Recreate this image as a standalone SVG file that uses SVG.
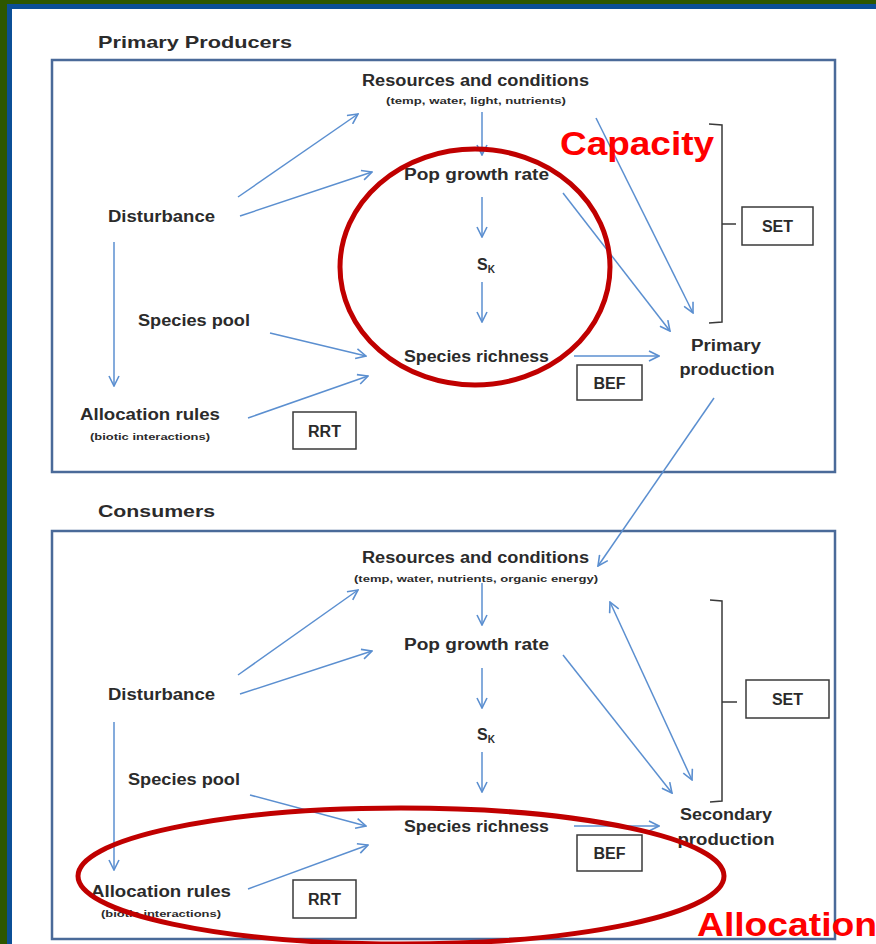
<svg xmlns="http://www.w3.org/2000/svg" width="876" height="944" viewBox="0 0 876 944">
<defs>
<marker id="ah" viewBox="0 0 12 12" refX="11" refY="6" markerWidth="12" markerHeight="12" markerUnits="userSpaceOnUse" orient="auto-start-reverse">
<path d="M1,1 L11,6 L1,11" fill="none" stroke="#5b8fd0" stroke-width="1.6"/>
</marker>
<style>
.t{font-family:"Liberation Sans",Arial,sans-serif;font-weight:bold;fill:#2b2b2b;}
.lbl{font-size:16px;}
.sm{font-size:9px;}
.hd{font-size:17px;}
.box{fill:#fff;stroke:#3a3a3a;stroke-width:1.5;}
.frame{fill:#fff;stroke:#4a6a99;stroke-width:2.5;}
.br{fill:none;stroke:#3a3a3a;stroke-width:1.5;}
.c line{stroke:#5b8fd0;stroke-width:1.5;marker-end:url(#ah);}
.red{font-family:"Liberation Sans",Arial,sans-serif;font-weight:bold;fill:#ff0000;font-size:34px;}
.ov{fill:none;stroke:#c00000;stroke-width:5;}
</style>
</defs>
<rect x="0" y="0" width="876" height="944" fill="#2d5700"/>
<rect x="7" y="4" width="869" height="940" fill="#0b4f97"/>
<rect x="12" y="9" width="864" height="935" fill="#ffffff"/>

<g id="producers">
<text class="t hd" x="98" y="48" textLength="194" lengthAdjust="spacingAndGlyphs">Primary Producers</text>
<rect class="frame" x="52" y="60" width="783" height="412"/>
</g>
<g id="consumers">
<text class="t hd" x="98" y="517" textLength="117" lengthAdjust="spacingAndGlyphs">Consumers</text>
<rect class="frame" x="52" y="531" width="783" height="408"/>
</g>

<!-- Top section nodes -->
<g id="p-resources">
<text class="t lbl" x="362" y="86" textLength="227" lengthAdjust="spacingAndGlyphs">Resources and conditions</text>
<text class="t sm" x="386" y="104" textLength="180" lengthAdjust="spacingAndGlyphs">(temp, water, light, nutrients)</text>
</g>
<g id="p-pop"><text class="t lbl" x="404" y="180" textLength="145" lengthAdjust="spacingAndGlyphs">Pop growth rate</text></g>
<g id="p-sk"><text class="t lbl" x="477" y="270">S<tspan font-size="10" dy="3">K</tspan></text></g>
<g id="p-rich"><text class="t lbl" x="404" y="362" textLength="145" lengthAdjust="spacingAndGlyphs">Species richness</text></g>
<g id="p-dist"><text class="t lbl" x="108" y="222" textLength="107" lengthAdjust="spacingAndGlyphs">Disturbance</text></g>
<g id="p-pool"><text class="t lbl" x="138" y="326" textLength="112" lengthAdjust="spacingAndGlyphs">Species pool</text></g>
<g id="p-alloc">
<text class="t lbl" x="80" y="420" textLength="140" lengthAdjust="spacingAndGlyphs">Allocation rules</text>
<text class="t sm" x="90" y="440" textLength="120" lengthAdjust="spacingAndGlyphs">(biotic interactions)</text>
</g>
<g id="p-rrt"><rect class="box" x="293" y="412" width="63" height="37"/><text class="t lbl" x="324.5" y="437" text-anchor="middle">RRT</text></g>
<g id="p-bef"><rect class="box" x="577" y="365" width="65" height="35"/><text class="t lbl" x="609.5" y="389" text-anchor="middle">BEF</text></g>
<g id="p-prod">
<text class="t lbl" x="726" y="351" text-anchor="middle" textLength="70" lengthAdjust="spacingAndGlyphs">Primary</text>
<text class="t lbl" x="727" y="375" text-anchor="middle" textLength="95" lengthAdjust="spacingAndGlyphs">production</text>
</g>
<g id="p-set">
<path class="br" d="M709,124 L722,125 L722,322 L709,323 M722,224 L736,224"/>
<rect class="box" x="742" y="207" width="71" height="38"/>
<text class="t lbl" x="777.5" y="232" text-anchor="middle">SET</text>
</g>

<!-- Bottom section nodes -->
<g id="c-resources">
<text class="t lbl" x="362" y="563" textLength="227" lengthAdjust="spacingAndGlyphs">Resources and conditions</text>
<text class="t sm" x="354" y="582" textLength="244" lengthAdjust="spacingAndGlyphs">(temp, water, nutrients, organic energy)</text>
</g>
<g id="c-pop"><text class="t lbl" x="404" y="650" textLength="145" lengthAdjust="spacingAndGlyphs">Pop growth rate</text></g>
<g id="c-sk"><text class="t lbl" x="477" y="740">S<tspan font-size="10" dy="3">K</tspan></text></g>
<g id="c-rich"><text class="t lbl" x="404" y="832" textLength="145" lengthAdjust="spacingAndGlyphs">Species richness</text></g>
<g id="c-dist"><text class="t lbl" x="108" y="700" textLength="107" lengthAdjust="spacingAndGlyphs">Disturbance</text></g>
<g id="c-pool"><text class="t lbl" x="128" y="785" textLength="112" lengthAdjust="spacingAndGlyphs">Species pool</text></g>
<g id="c-alloc">
<text class="t lbl" x="91" y="897" textLength="140" lengthAdjust="spacingAndGlyphs">Allocation rules</text>
<text class="t sm" x="101" y="917" textLength="120" lengthAdjust="spacingAndGlyphs">(biotic interactions)</text>
</g>
<g id="c-rrt"><rect class="box" x="293" y="880" width="63" height="38"/><text class="t lbl" x="324.5" y="905" text-anchor="middle">RRT</text></g>
<g id="c-bef"><rect class="box" x="577" y="835" width="65" height="36"/><text class="t lbl" x="609.5" y="859" text-anchor="middle">BEF</text></g>
<g id="c-prod">
<text class="t lbl" x="726" y="820" text-anchor="middle" textLength="92" lengthAdjust="spacingAndGlyphs">Secondary</text>
<text class="t lbl" x="726" y="845" text-anchor="middle" textLength="97" lengthAdjust="spacingAndGlyphs">production</text>
</g>
<g id="c-set">
<path class="br" d="M710,600 L722,601 L722,801 L710,802 M722,702 L737,702"/>
<rect class="box" x="746" y="680" width="83" height="38"/>
<text class="t lbl" x="787.5" y="705" text-anchor="middle">SET</text>
</g>

<g id="connectors" class="c">
<line x1="238" y1="197" x2="358" y2="114"/>
<line x1="240" y1="216" x2="372" y2="172"/>
<line x1="482" y1="112" x2="482" y2="155"/>
<line x1="482" y1="197" x2="482" y2="237"/>
<line x1="482" y1="282" x2="482" y2="322"/>
<line x1="270" y1="333" x2="366" y2="356"/>
<line x1="248" y1="418" x2="368" y2="376"/>
<line x1="114" y1="242" x2="114" y2="386"/>
<line x1="574" y1="356" x2="659" y2="356"/>
<line x1="596" y1="118" x2="693" y2="313"/>
<line x1="563" y1="193" x2="670" y2="331"/>
<line x1="714" y1="398" x2="598" y2="566"/>

<line x1="238" y1="675" x2="358" y2="590"/>
<line x1="240" y1="694" x2="372" y2="651"/>
<line x1="482" y1="583" x2="482" y2="625"/>
<line x1="482" y1="668" x2="482" y2="708"/>
<line x1="482" y1="752" x2="482" y2="792"/>
<line x1="250" y1="795" x2="366" y2="826"/>
<line x1="248" y1="889" x2="368" y2="845"/>
<line x1="114" y1="722" x2="114" y2="870"/>
<line x1="574" y1="826" x2="659" y2="826"/>
<line x1="692" y1="780" x2="610" y2="602" marker-start="url(#ah)"/>
<line x1="563" y1="655" x2="672" y2="793"/>
</g>

<g id="capacity">
<ellipse class="ov" cx="475" cy="267" rx="135" ry="118"/>
<text class="red" x="560" y="155" textLength="154" lengthAdjust="spacingAndGlyphs">Capacity</text>
</g>
<g id="allocation">
<ellipse class="ov" cx="401" cy="876" rx="323" ry="68"/>
<text class="red" x="697" y="936" textLength="180" lengthAdjust="spacingAndGlyphs">Allocation</text>
</g>
</svg>
